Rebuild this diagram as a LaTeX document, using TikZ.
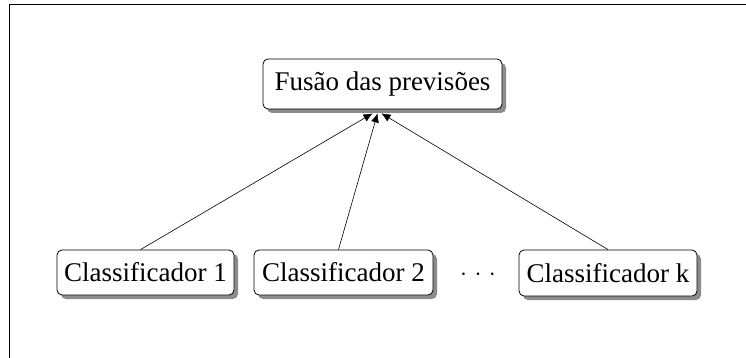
\documentclass[tikz,border=0pt]{standalone}
\usepackage{fontspec}
\setmainfont{Liberation Serif}
\usetikzlibrary{shadows,arrows.meta}
\begin{document}
\begin{tikzpicture}[x=1pt,y=-1pt,
  box/.style={draw=black,line width=0.8pt,rounded corners=5pt,fill=white,
    font=\fontsize{27}{30}\selectfont,inner sep=0pt,
    drop shadow={shadow xshift=4pt,shadow yshift=-4pt,fill=black!45,opacity=1}},
  conn/.style={line width=0.6pt,-{Latex[length=9pt,width=8pt]}}]
\useasboundingbox (0,0) rectangle (746,358);
\fill[white] (0,0) rectangle (746,358);
\draw[line width=1pt] (9,360) -- (9,5) -- (750,5);
\node[box,minimum width=239pt,minimum height=50pt] (top) at (382.5,84) {Fusão das previsões};
\node[box,minimum width=177pt,minimum height=45pt] (c1) at (145.5,272.5) {Classificador 1};
\node[box,minimum width=179pt,minimum height=45pt] (c2) at (343.5,272.5) {Classificador 2};
\node[box,minimum width=178pt,minimum height=46pt] (ck) at (608,273) {Classificador k};
\node[font=\fontsize{40}{44}\selectfont] (dots) at (478,275) {$\cdot\hspace{2pt}\cdot\hspace{2pt}\cdot$};
\coordinate (t1) at ([xshift=-10pt,yshift=-4pt]top.south);
\coordinate (t2) at ([xshift=-5pt,yshift=-4pt]top.south);
\coordinate (t3) at ([xshift=-1pt,yshift=-4pt]top.south);
\draw[conn] ([xshift=-5pt]c1.north) -- (t1);
\draw[conn] ([xshift=-5pt]c2.north) -- (t2);
\draw[conn] (ck.north) -- (t3);
\end{tikzpicture}
\end{document}
